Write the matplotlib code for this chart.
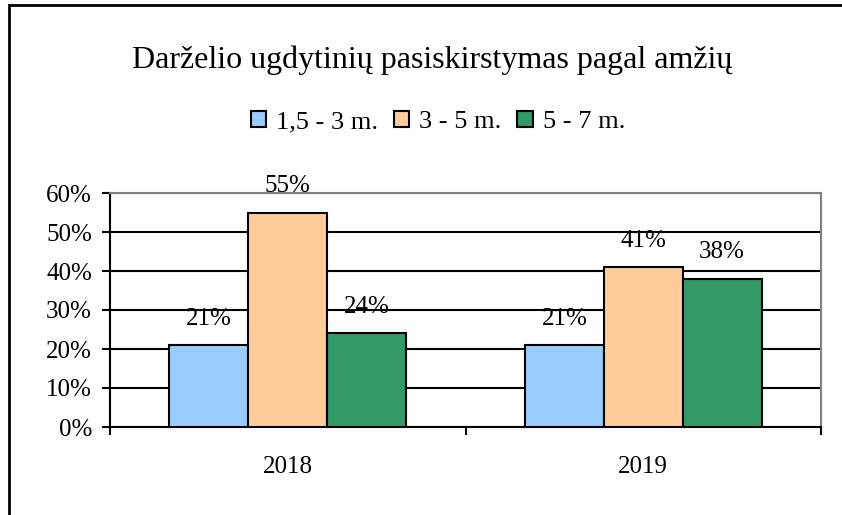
import matplotlib
matplotlib.use("Agg")
import matplotlib.pyplot as plt
from matplotlib.patches import Rectangle
from matplotlib.ticker import PercentFormatter, FixedLocator
import numpy as np

categories = ["2018", "2019"]
series_names = ["1,5 - 3 m.", "3 - 5 m.", "5 - 7 m."]
age_1_5_3 = [0.21, 0.21]
age_3_5 = [0.55, 0.41]
age_5_7 = [0.24, 0.38]
colors = ["#99CCFF", "#FFCC99", "#339966"]

plt.rcParams['font.family'] = ['Liberation Serif', 'DejaVu Serif']

fig = plt.figure(figsize=(8.42, 5.15), dpi=100)
fig.patches.append(Rectangle((9/842, -0.1), 1.2, 1 - 5/515 + 0.1, transform=fig.transFigure,
                             fill=False, edgecolor="black", linewidth=2, zorder=0))

ax = fig.add_axes([110/842, 1 - 427/515, (821 - 110)/842, (427 - 193)/515])

x = np.arange(len(categories))
w = 0.222
all_series = [age_1_5_3, age_3_5, age_5_7]
for i, (vals, name, c) in enumerate(zip(all_series, series_names, colors)):
    pos = x + (i - 1) * w
    ax.bar(pos, vals, width=w, color=c, edgecolor="black", linewidth=1.5, label=name, zorder=3)
    for p, v in zip(pos, vals):
        ax.annotate(f"{round(v*100):d}%", (p, v), xytext=(0, 19), textcoords="offset points",
                    ha="center", va="center", fontsize=18)

ax.set_xlim(-0.5, 1.5)
ax.set_ylim(0, 0.6)
ax.set_yticks(np.arange(0, 0.61, 0.1))
ax.yaxis.set_major_formatter(PercentFormatter(1.0, decimals=0))
ax.tick_params(axis="y", labelsize=18, length=6, width=1.5, direction="out", pad=7)
ax.grid(axis="y", color="black", linewidth=1.5, zorder=1)
ax.set_axisbelow(True)

ax.set_xticks(x)
ax.set_xticklabels(categories)
ax.tick_params(axis="x", which="major", length=0, labelsize=18, pad=21)
ax.xaxis.set_minor_locator(FixedLocator([-0.5, 0.5, 1.5]))
ax.tick_params(axis="x", which="minor", length=6, width=1.5, direction="out")

ax.spines["left"].set_linewidth(1.5)
ax.spines["bottom"].set_linewidth(1.5)
ax.spines["top"].set_color("#808080")
ax.spines["right"].set_color("#808080")
ax.spines["top"].set_linewidth(1.5)
ax.spines["right"].set_linewidth(1.5)

fig.text(432/842, 1 - 60/515, "Darželio ugdytinių pasiskirstymas pagal amžių", ha="center", va="center",
         fontsize=23)

fig.legend(loc="center", bbox_to_anchor=(438/842, 1 - 122/515), ncol=3, frameon=False,
           fontsize=19, handlelength=0.58, handleheight=0.58, handletextpad=0.38, columnspacing=0.6)

fig.savefig("out.png", dpi=100)
